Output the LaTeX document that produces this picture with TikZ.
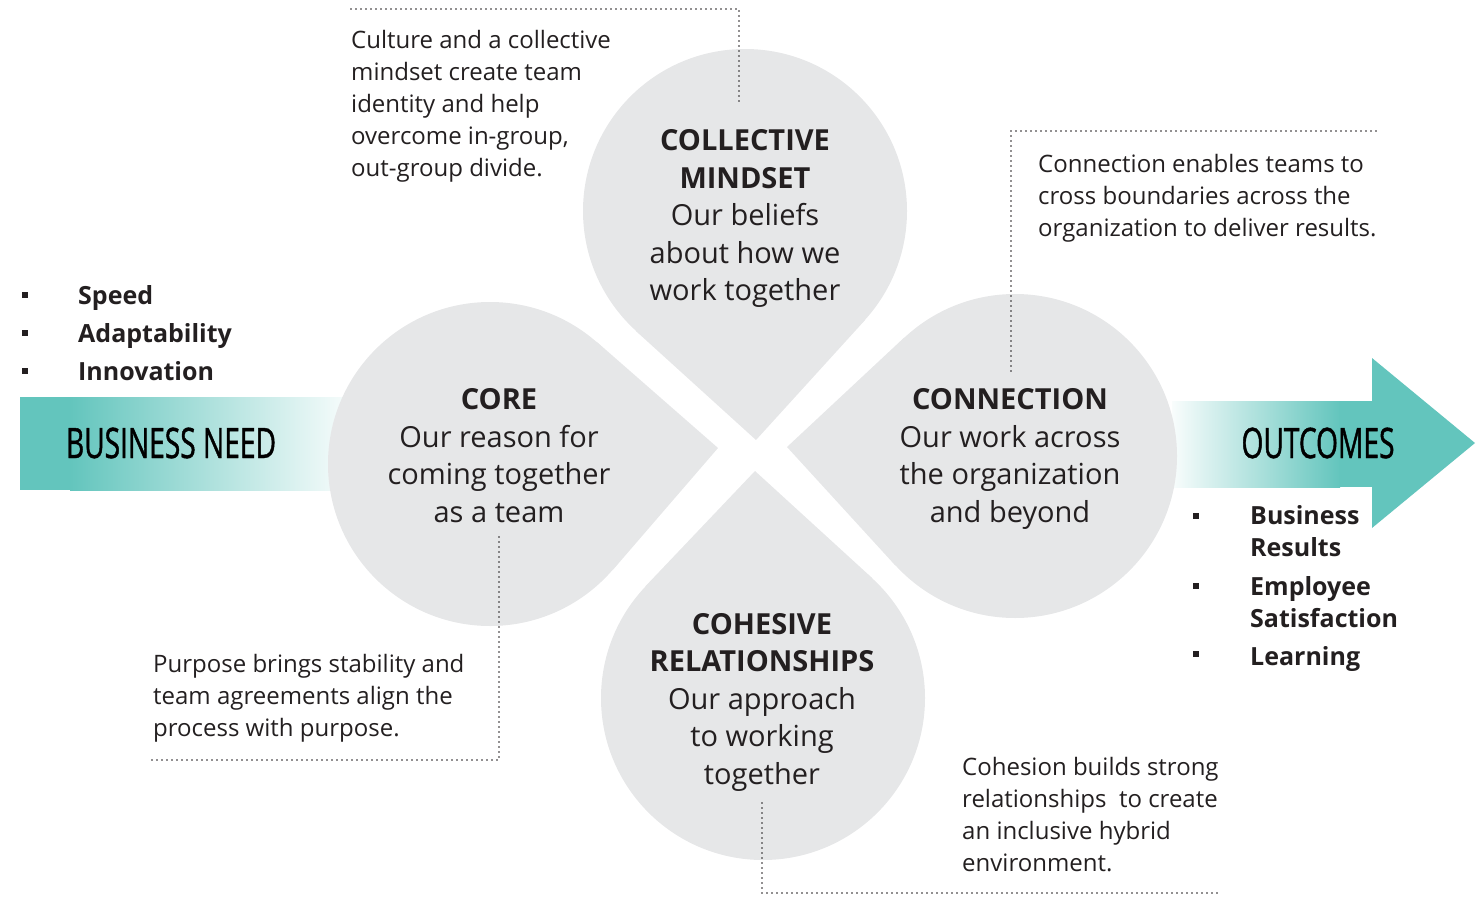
\documentclass[tikz,border=0pt]{standalone}
\usepackage{fontspec}
\setmainfont{Open Sans}
\newfontfamily\condfont[FakeStretch=0.67, FakeBold=1]{Open Sans}
\usetikzlibrary{positioning, calc}
\definecolor{bnteal}{RGB}{99,197,189}
\definecolor{petalgray}{RGB}{230,231,232}
\definecolor{inkgray}{RGB}{35,31,32}

\begin{document}
\begin{tikzpicture}[x=1pt, y=-1pt, inner sep=0pt, text=inkgray]
    \tikzstyle{petal} = [circle, fill=petalgray, minimum size=324pt]
    \tikzstyle{ptext} = [align=center, font=\fontsize{29}{37.5}\selectfont]
    \tikzstyle{note} = [anchor=north west, align=left, font=\fontsize{24}{32}\selectfont]
    \tikzstyle{leader} = [inkgray, line width=1.6pt, dash pattern=on 0pt off 5pt, line cap=round]
    \tikzstyle{bullet} = [fill=inkgray, minimum size=6pt]
    \tikzstyle{item} = [anchor=base west, align=left, font=\fontsize{25}{32}\selectfont\bfseries]
    \tikzstyle{banner} = [font=\condfont\fontsize{42}{42}\selectfont, text=black]

    \useasboundingbox (0,0) rectangle (1478,899);

    % business need bar and outcomes arrow
    \fill[bnteal] (20,397) rectangle (70,490);
    \shade[left color=bnteal, right color=bnteal!6] (70,397) rectangle (345,490);
    \shade[left color=bnteal!4, right color=bnteal] (1172,401) rectangle (1340,487);
    \fill[bnteal] (1339,401) rectangle (1373,487);
    \fill[bnteal] (1372,358) -- (1475,443) -- (1372,528) -- cycle;

    % petals
    \node[petal] (M) at (745,211) {};
    \node[petal] (C) at (490,464) {};
    \node[petal] (N) at (1015,456) {};
    \node[petal] (H) at (763,698) {};
    \coordinate (tM) at (756,440);
    \coordinate (tC) at (718,448);
    \coordinate (tN) at (787,447);
    \coordinate (tH) at (755,471);
    \foreach \p in {M,C,N,H}
        \fill[petalgray] (t\p) -- (tangent cs:node=\p,point={(t\p)},solution=1)
            -- (\p.center) -- (tangent cs:node=\p,point={(t\p)},solution=2) -- cycle;

    \node[ptext] (Mt) at (745,218.5) {\textbf{COLLECTIVE}\\\textbf{MINDSET}\\Our beliefs\\about how we\\work together};
    \node[ptext] (Ct) at (499,455.5) {\textbf{CORE}\\Our reason for\\coming together\\as a team};
    \node[ptext] (Nt) at (1010,459) {\textbf{CONNECTION}\\Our work across\\the organization\\and beyond};
    \node[ptext] (Ht) at (762,702) {\textbf{COHESIVE}\\\textbf{RELATIONSHIPS}\\Our approach\\to working\\together};

    \node[banner] (need) at (171,443) {BUSINESS NEED};
    \node[banner] (outc) at (1318,443) {OUTCOMES};

    % notes
    \node[note] (A1) at (351,30) {Culture and a collective\\mindset create team\\identity and help\\overcome in-group,\\out-group divide.};
    \node[note] (A2) at (1038,154) {Connection enables teams to\\cross boundaries across the\\organization to deliver results.};
    \node[note] (A3) at (153,654) {Purpose brings stability and\\team agreements align the\\process with purpose.};
    \node[note] (A4) at (962,757) {Cohesion builds strong\\relationships\ \ to create\\an inclusive hybrid\\environment.};

    \coordinate (lA1) at (351,9);    \coordinate (eM) at (739,105);
    \coordinate (lA2) at (1376,131); \coordinate (eN) at (1011,372);
    \coordinate (eC) at (499,537);   \coordinate (lA3) at (152,760);
    \coordinate (eH) at (762,803);   \coordinate (lA4) at (1220,893);
    \draw[leader] (lA1) -| (eM);
    \draw[leader] (lA2) -| (eN);
    \draw[leader] (eC) |- (lA3);
    \draw[leader] (eH) |- (lA4);

    % bullets
    \node[bullet] (b1) at (25,295) {};
    \node[bullet] (b2) at (25,333) {};
    \node[bullet] (b3) at (25,371) {};
    \node[item] (i1) at (78,304) {Speed};
    \node[item] (i2) at (78,342) {Adaptability};
    \node[item] (i3) at (78,380) {Innovation};

    \node[bullet] (b4) at (1196,516) {};
    \node[bullet] (b5) at (1196,586) {};
    \node[bullet] (b6) at (1196,654) {};
    \node[item] (o1) at (1250,556) {Business\\Results};
    \node[item] (o2) at (1250,627) {Employee\\Satisfaction};
    \node[item] (o3) at (1250,665) {Learning};
\end{tikzpicture}
\end{document}
